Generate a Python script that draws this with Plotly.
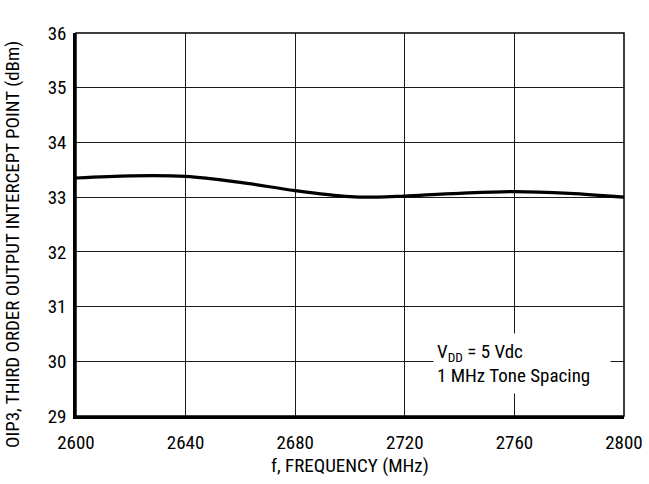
import plotly.graph_objects as go

freq_mhz = [2600, 2620, 2640, 2660, 2680, 2700, 2710, 2720, 2740, 2760, 2780, 2800]
oip3_dbm = [33.35, 33.39, 33.38, 33.27, 33.12, 33.01, 33.00, 33.02, 33.07, 33.10, 33.07, 33.00]

x_ticks = [2600, 2640, 2680, 2720, 2760, 2800]
y_ticks = [29, 30, 31, 32, 33, 34, 35, 36]

FONT = "Roboto Condensed, Liberation Sans Narrow, Liberation Sans, Arial"

fig = go.Figure()
fig.add_trace(go.Scatter(
    x=freq_mhz, y=oip3_dbm, mode="lines",
    line=dict(color="black", width=3.2, shape="spline", smoothing=1.0),
    showlegend=False, hoverinfo="skip",
))

axis_common = dict(
    showgrid=True, gridcolor="#1a1a1a", gridwidth=1.2,
    showline=True, linecolor="black", linewidth=2.5,
    zeroline=False, ticks="", automargin=False,
    tickfont=dict(family=FONT, size=19, color="black"),
)

fig.update_xaxes(range=[2600, 2800], tickvals=x_ticks, ticklabelstandoff=7, **axis_common)
fig.update_yaxes(range=[29, 36], tickvals=y_ticks, ticklabelstandoff=3, **axis_common)

# thin right/top border
fig.add_shape(type="rect", xref="paper", yref="paper", x0=0, x1=1, y0=0, y1=1,
              line=dict(color="black", width=1.5), layer="above")

fig.add_annotation(
    xref="x", yref="y", x=2730.3, y=30.52, xanchor="left", yanchor="top",
    text="V<sub>DD</sub> = 5 Vdc<br>1 MHz Tone Spacing",
    showarrow=False, align="left", valign="middle",
    bgcolor="white", borderpad=3, width=170, height=53,
    font=dict(family=FONT, size=19, color="black"),
)

fig.add_annotation(
    xref="paper", yref="paper", x=0.5, y=-0.1305, xanchor="center", yanchor="middle",
    text="f, FREQUENCY (MHz)", showarrow=False,
    font=dict(family=FONT, size=19, color="black"),
)
fig.add_annotation(
    xref="paper", yref="paper", x=-0.1168, y=0.449, xanchor="center", yanchor="middle",
    text="OIP3, THIRD ORDER OUTPUT INTERCEPT POINT (dBm)", showarrow=False, textangle=-90,
    font=dict(family=FONT, size=19, color="black"),
)

fig.update_layout(
    width=649, height=484,
    margin=dict(l=76, r=25, t=33, b=68),
    paper_bgcolor="white", plot_bgcolor="white",
    font=dict(family=FONT, color="black"),
)

fig.write_html("out.html", config={"displayModeBar": False},
               post_script="document.body.style.margin='0';")
